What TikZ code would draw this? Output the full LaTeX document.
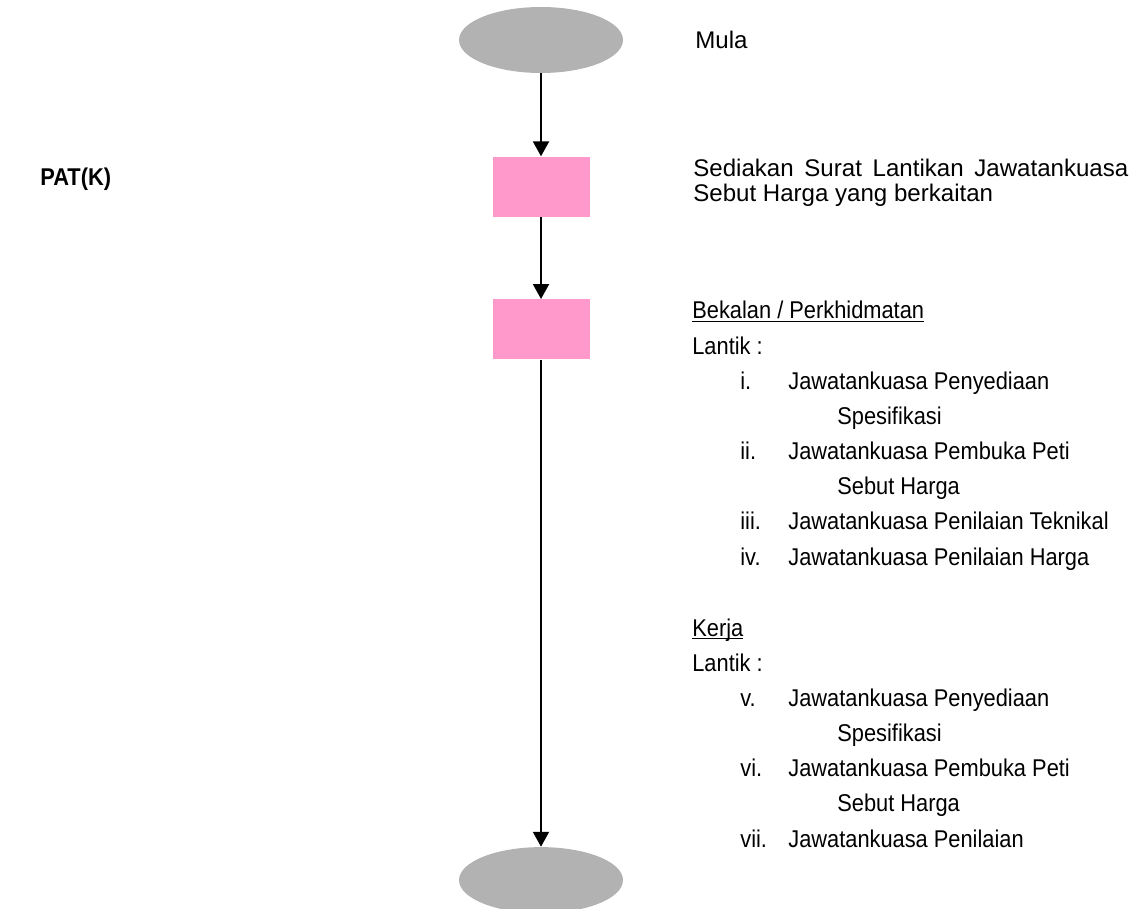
\documentclass[tikz,border=0pt]{standalone}
\usepackage{fontspec}
\setmainfont{Liberation Sans}
\newfontfamily\narrowfont[FakeStretch=0.9]{Liberation Sans}
\usetikzlibrary{shapes.geometric, arrows.meta, positioning}
\definecolor{termgrey}{RGB}{178, 178, 178}
\definecolor{procpink}{RGB}{255, 153, 204}
\newcommand{\romitem}[2]{\hspace*{0.96cm}\makebox[0.96cm][l]{#1}#2}
\newcommand{\contline}[1]{\hspace*{2.9cm}#1}
\newcommand{\undertext}[1]{\setbox0=\hbox{#1}\rlap{\rule[-1.6pt]{\wd0}{0.6pt}}\box0}

\begin{document}
\begin{tikzpicture}[
    terminal/.style={ellipse, fill=termgrey, minimum width=3.28cm, minimum height=1.32cm, inner sep=0pt},
    process/.style={rectangle, fill=procpink, minimum width=1.94cm, minimum height=1.2cm, inner sep=0pt},
    note/.style={anchor=base west, inner sep=0pt, font=\fontsize{13.7pt}{13.95pt}\selectfont},
    listnote/.style={anchor=base west, inner sep=0pt, align=left, font=\narrowfont\fontsize{13.8pt}{20pt}\selectfont},
    arrow/.style={-{Triangle[width=9pt,length=8.5pt]}, line width=1.4pt, black}
]
\useasboundingbox (0,0) rectangle (22.9,-18.16);

\node (start)   [terminal] at (10.82,-0.80) {};
\node (prep)    [process, below=1.66cm of start] {};
\node (appoint) [process, below=1.64cm of prep] {};
\node (finish)  [terminal, below=9.74cm of appoint] {};

\node (owner) [listnote, font=\narrowfont\bfseries\fontsize{13.8pt}{20pt}\selectfont] at (0.80,-3.72) {PAT(K)};

\node (mula)  [note] at (13.90,-0.98) {Mula};
\node (surat) [note, text width=8.7cm, align=justify] at (13.86,-3.54) {Sediakan Surat Lantikan Jawatankuasa Sebut Harga yang berkaitan};

% multi-line notes sit on their last line
\node (bekalan) [listnote] at (13.84,-11.30) {\undertext{Bekalan / Perkhidmatan}\\
    Lantik :\\
    \romitem{i.}{Jawatankuasa Penyediaan}\\
    \contline{Spesifikasi}\\
    \romitem{ii.}{Jawatankuasa Pembuka Peti}\\
    \contline{Sebut Harga}\\
    \romitem{iii.}{Jawatankuasa Penilaian Teknikal}\\
    \romitem{iv.}{Jawatankuasa Penilaian Harga}};

\node (kerja) [listnote] at (13.84,-16.94) {\undertext{Kerja}\\
    Lantik :\\
    \romitem{v.}{Jawatankuasa Penyediaan}\\
    \contline{Spesifikasi}\\
    \romitem{vi.}{Jawatankuasa Pembuka Peti}\\
    \contline{Sebut Harga}\\
    \romitem{vii.}{Jawatankuasa Penilaian}};

\draw [arrow] (start) -- (prep);
\draw [arrow] (prep) -- (appoint);
\draw [arrow] (appoint) -- (finish);

\end{tikzpicture}
\end{document}
